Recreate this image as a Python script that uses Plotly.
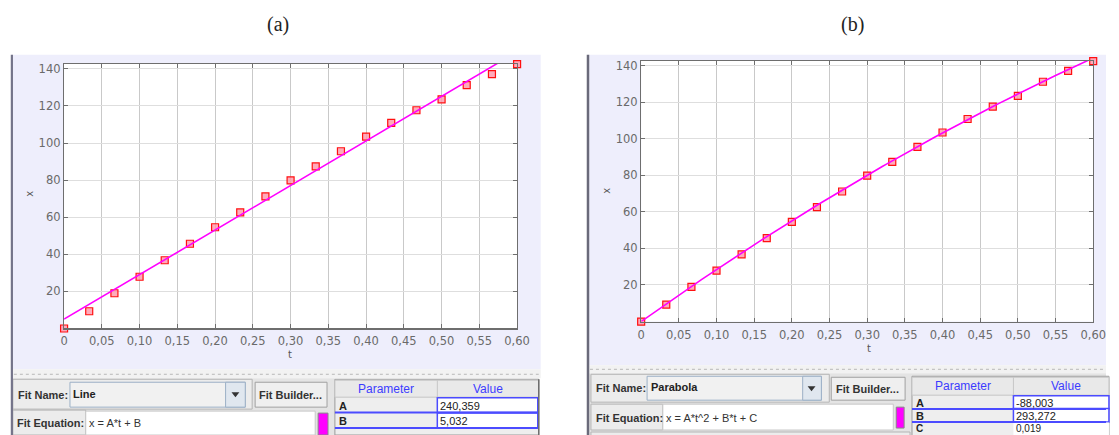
import numpy as np
import plotly.graph_objects as go

W, H = 1119, 435

# ---------------- data ----------------
t_data = [0.0, 0.0333, 0.0667, 0.1, 0.1333, 0.1667, 0.2, 0.2333, 0.2667, 0.3,
          0.3333, 0.3667, 0.4, 0.4333, 0.4667, 0.5, 0.5333, 0.5667, 0.6]
x_data = [0.0, 9.3, 19.0, 27.9, 36.8, 45.7, 54.6, 62.6, 71.2, 79.9,
          87.4, 95.6, 103.5, 110.9, 117.7, 123.6, 131.3, 137.2, 142.6]

line_params = ["A", "B"]
line_values = [240.359, 5.032]
parabola_params = ["A", "B", "C"]
parabola_values = [-88.003, 293.272, 0.019]

x_tick_vals = [0, 0.05, 0.10, 0.15, 0.20, 0.25, 0.30, 0.35, 0.40, 0.45, 0.50, 0.55, 0.60]
x_tick_text = ["0", "0,05", "0,10", "0,15", "0,20", "0,25", "0,30", "0,35", "0,40",
               "0,45", "0,50", "0,55", "0,60"]
y_tick_vals = [20, 40, 60, 80, 100, 120, 140]
y_tick_text = ["20", "40", "60", "80", "100", "120", "140"]

panel_titles = ["(a)", "(b)"]
fit_names = ["Line", "Parabola"]
fit_equations = ["x = A*t + B", "x = A*t^2 + B*t + C"]

# fit curves from the displayed parameters
t_fit = np.linspace(0, 0.6, 121)
x_fit_line = line_values[0] * t_fit + line_values[1]
x_fit_par = parabola_values[0] * t_fit ** 2 + parabola_values[1] * t_fit + parabola_values[2]


def X(p):
    return p / W


def Y(p):
    return 1 - p / H


def fmt(v):
    return f"{v:.3f}".replace(".", ",")


fig = go.Figure()

marker_style = dict(symbol="square", size=7, color="rgba(255,150,170,0.8)",
                    line=dict(color="#ff1010", width=1.2))
fit_style = dict(color="#ff00ff", width=1.6)

fig.add_trace(go.Scatter(x=t_data, y=x_data, mode="markers", marker=marker_style,
                         xaxis="x", yaxis="y", cliponaxis=False, showlegend=False))
fig.add_trace(go.Scatter(x=t_fit, y=x_fit_line, mode="lines", line=fit_style,
                         xaxis="x", yaxis="y", showlegend=False))
fig.add_trace(go.Scatter(x=t_data, y=x_data, mode="markers", marker=marker_style,
                         xaxis="x2", yaxis="y2", cliponaxis=False, showlegend=False))
fig.add_trace(go.Scatter(x=t_fit, y=x_fit_par, mode="lines", line=fit_style,
                         xaxis="x2", yaxis="y2", showlegend=False))

tick_font = dict(family="DejaVu Sans", size=11.5, color="#6a6a6a")


def xaxis_cfg(domain, anchor, standoff):
    return dict(domain=domain, anchor=anchor, range=[0, 0.6], tickmode="array",
                tickvals=x_tick_vals, ticktext=x_tick_text, tickfont=tick_font,
                showgrid=True, gridcolor="#c9c9c9", gridwidth=1,
                showline=True, linecolor="#6e6e6e", linewidth=1.2, mirror="ticks",
                ticks="inside", ticklen=4, tickcolor="#6e6e6e", zeroline=False,
                ticklabelstandoff=standoff, fixedrange=True)


def yaxis_cfg(domain, anchor):
    return dict(domain=domain, anchor=anchor, range=[0, 142.8], tickmode="array",
                tickvals=y_tick_vals, ticktext=y_tick_text, tickfont=tick_font,
                showgrid=True, gridcolor="#dedede", gridwidth=1,
                showline=True, linecolor="#6e6e6e", linewidth=1.2, mirror="ticks",
                ticks="inside", ticklen=4, tickcolor="#6e6e6e", zeroline=False,
                fixedrange=True)


shapes = []
annotations = []


def rect(x0, y0, x1, y1, fill, line=None, lw=1):
    shapes.append(dict(type="rect", xref="paper", yref="paper",
                       x0=X(x0), x1=X(x1), y0=Y(y1), y1=Y(y0),
                       fillcolor=fill, layer="below",
                       line=dict(color=line if line else "rgba(0,0,0,0)", width=lw if line else 0)))


def hline(x0, x1, y, color, width=1, dash="solid", layer="above"):
    shapes.append(dict(type="line", xref="paper", yref="paper", x0=X(x0), x1=X(x1),
                       y0=Y(y), y1=Y(y), line=dict(color=color, width=width, dash=dash),
                       layer=layer))


def vline(x, y0, y1, color, width=1, layer="above"):
    shapes.append(dict(type="line", xref="paper", yref="paper", x0=X(x), x1=X(x),
                       y0=Y(y0), y1=Y(y1), line=dict(color=color, width=width), layer=layer))


def text(x, y, s, size=11, color="#333333", bold=False, anchor="left",
         family="Liberation Sans", angle=0):
    annotations.append(dict(xref="paper", yref="paper", x=X(x), y=Y(y),
                            text=f"<b>{s}</b>" if bold else s, showarrow=False,
                            xanchor=anchor, yanchor="middle", textangle=angle,
                            borderpad=0,
                            font=dict(family=family, size=size, color=color)))


def arrow(cx, cy):
    shapes.append(dict(type="path", xref="paper", yref="paper",
                       path=f"M {X(cx-4)},{Y(cy-2)} L {X(cx+4)},{Y(cy-2)} L {X(cx)},{Y(cy+3)} Z",
                       fillcolor="#333333", line=dict(width=0), layer="above"))


LAV = "#eeeefc"
GRAY = "#ececec"
BORDER = "#b4b4b4"
BLUE = "#4b4bff"

# ---------- panel (a) ----------
rect(8, 53, 545, 369, LAV)
rect(61, 62, 521, 328, "#ffffff")
rect(8, 369, 545, 378, "#f2f2f2")
hline(10, 543, 374, "#b8b8b8", 1, "dot")
rect(8, 378, 336, 435, "#e4e4e4")
rect(9, 379, 252, 409, GRAY, BORDER)
rect(67, 382, 245, 407, "#f1f1f1", "#9cb0c6")
rect(225, 382, 245, 407, "#e0e7ef", "#9cb0c6")
arrow(235, 394)
rect(255, 382, 328, 407, "#efefef", "#a0a0a0")
rect(9, 410, 83, 435, GRAY, BORDER)
rect(83, 411, 316, 435, "#ffffff", "#c8c8c8")
rect(319, 413, 329, 435, "#ff00ff", "#888888")
rect(336, 379, 543, 435, "#eeeeee", "#9a9a9a")
rect(336, 380, 543, 397, "#e9e9e9", "#c6c6c6")
vline(440, 380, 397, "#c6c6c6")
text(13, 395, "Fit Name:", 11, "#333333", True)
text(69, 394, fit_names[0], 11, "#222222", True)
text(291, 395, "Fit Builder...", 11, "#333333", True, "center")
text(12, 423, "Fit Equation:", 11, "#333333", True)
text(85, 423, fit_equations[0], 11, "#333333")
text(388, 389, "Parameter", 12, "#3c3cff", False, "center")
text(491, 389, "Value", 12, "#3c3cff", False, "center")
row_tops_a = [397.5, 413]
for i, (p, v) in enumerate(zip(line_params, line_values)):
    y0 = row_tops_a[i]
    rect(440, y0, 542, y0 + 15, "#ffffff", BLUE, 1.5)
    text(339, y0 + 8, p, 11, "#222222", True)
    text(442, y0 + 8, fmt(v), 11, "#222222")
    hline(336, 542, y0 + 15, BLUE, 2)
vline(543, 379, 435, "#6e6e6e", 1.5)
vline(8, 53, 435, "#74748a", 2.2)

# ---------- panel (b) ----------
rect(593, 53, 1119, 365, LAV)
rect(647, 59, 1106, 321, "#ffffff")
rect(593, 365, 1119, 373, "#f2f2f2")
hline(595, 1119, 369, "#b8b8b8", 1, "dot")
rect(593, 373, 1119, 435, "#e4e4e4")
rect(596, 374, 838, 402, GRAY, BORDER)
rect(653, 376, 830, 400, "#f1f1f1", "#9cb0c6")
rect(811, 376, 830, 400, "#e0e7ef", "#9cb0c6")
arrow(820, 388)
rect(840, 377, 915, 400, "#efefef", "#a0a0a0")
rect(596, 404, 669, 430, GRAY, BORDER)
rect(669, 404, 903, 430, "#ffffff", "#c8c8c8")
rect(906, 407, 914, 428, "#ff00ff", "#888888")
rect(596, 432, 920, 440, GRAY, BORDER)
rect(922, 376, 1122, 440, "#eeeeee", "#9a9a9a")
rect(922, 377, 1122, 395, "#e9e9e9", "#c6c6c6")
vline(1025, 377, 395, "#c6c6c6")
text(600, 388, "Fit Name:", 11, "#333333", True)
text(656, 387, fit_names[1], 11, "#222222", True)
text(877, 389, "Fit Builder...", 11, "#333333", True, "center")
text(600, 418, "Fit Equation:", 11, "#333333", True)
text(671, 418, fit_equations[1], 11, "#333333")
text(974, 386, "Parameter", 12, "#3c3cff", False, "center")
text(1078, 386, "Value", 12, "#3c3cff", False, "center")
row_tops_b = [395.5, 408.5, 422.5]
for i, (p, v) in enumerate(zip(parabola_params, parabola_values)):
    y0 = row_tops_b[i]
    rect(1025, y0, 1122, y0 + 13.5, "#ffffff", BLUE if i < 2 else None, 1.5)
    cy = y0 + 7 if i < 2 else 428
    sz = 11 if i < 2 else 10
    text(925, cy, p, sz, "#222222", True)
    text(1027, cy, fmt(v), sz, "#222222")
    if i < 2:
        hline(922, 1119, y0 + 13.5, BLUE, 2)
vline(593, 53, 435, "#6a6a7a", 2.5)

# ---------- titles and axis labels ----------
text(278, 23, panel_titles[0], 20, "#222222", False, "center", "Liberation Serif")
text(862, 23, panel_titles[1], 20, "#222222", False, "center", "Liberation Serif")
text(25, 193, "x", 10, "#555555", False, "center", "DejaVu Sans", -90)
text(290, 354, "t", 10, "#555555", False, "center", "DejaVu Sans")
text(611, 190, "x", 10, "#555555", False, "center", "DejaVu Sans", -90)
text(878, 348, "t", 10, "#555555", False, "center", "DejaVu Sans")

fig.update_layout(
    width=W, height=H,
    margin=dict(l=0, r=0, t=0, b=0),
    paper_bgcolor="#ffffff",
    plot_bgcolor="#ffffff",
    showlegend=False,
    hovermode=False,
    xaxis=xaxis_cfg([X(61), X(521)], "y", 2),
    yaxis=yaxis_cfg([Y(328), Y(62)], "x"),
    xaxis2=xaxis_cfg([X(647), X(1106)], "y2", 2),
    yaxis2=yaxis_cfg([Y(321), Y(59)], "x2"),
    shapes=shapes,
    annotations=annotations,
)

fig.write_html("out.html",
               config={"displayModeBar": False, "staticPlot": True},
               post_script="document.body.style.margin='0px';"
                           "document.body.style.overflow='hidden';")
